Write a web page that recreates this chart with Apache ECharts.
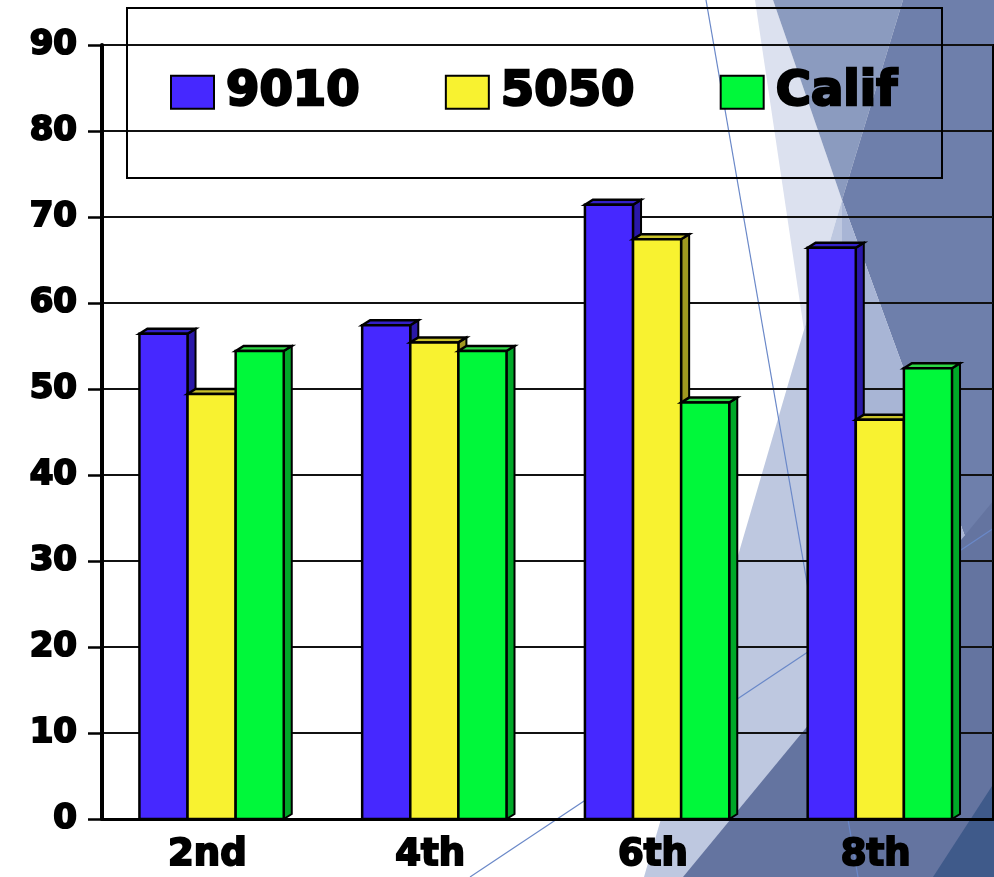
<!DOCTYPE html>
<html>
<head>
<meta charset="utf-8">
<script src="https://cdn.jsdelivr.net/npm/echarts@6/dist/echarts.min.js"></script>
<style>
  html, body { margin: 0; padding: 0; background: #fff; }
  #chart { width: 994px; height: 877px; }
</style>
</head>
<body>
<div id="chart"></div>
<script>
// Grade-level scores for three groups
const categories = ['2nd', '4th', '6th', '8th'];
const seriesNames = ['9010', '5050', 'Calif'];
const values9010 = [57, 58, 72, 67];
const values5050 = [50, 56, 68, 47];
const valuesCalif = [55, 55, 49, 53];
const yMin = 0, yMax = 90, yStep = 10;

// face colours: front, top, side
const palettes = [
  { front: '#4628FF', top: '#3320C8', side: '#2A18A8' },
  { front: '#F8F230', top: '#C9C22A', side: '#A09820' },
  { front: '#00F83A', top: '#2ED846', side: '#00A828' }
];

const FONT = 'DejaVu Sans';

// column with a shallow extruded top and right side
function columnRenderer(slot, pal) {
  return function (params, api) {
    const idx = api.value(0);
    const v = api.value(1);
    const topPt = api.coord([idx, v]);
    const basePt = api.coord([idx, 0]);
    const band = api.size([1, 0])[0];
    const w = band * 0.216;
    const x = topPt[0] - band * 0.332 + slot * w;
    const dx = 8, dy = 5;
    const yt = topPt[1] + dy;
    const yb = basePt[1];
    return {
      type: 'group',
      children: [
        { type: 'polygon',
          shape: { points: [[x + w, yt], [x + w + dx, yt - dy], [x + w + dx, yb - dy], [x + w, yb]] },
          style: { fill: pal.side, stroke: '#000', lineWidth: 2 } },
        { type: 'polygon',
          shape: { points: [[x, yt], [x + dx, yt - dy], [x + w + dx, yt - dy], [x + w, yt]] },
          style: { fill: pal.top, stroke: '#000', lineWidth: 2.5 } },
        { type: 'rect',
          shape: { x: x, y: yt, width: w, height: yb - yt },
          style: { fill: pal.front, stroke: '#000', lineWidth: 2.5 } }
      ]
    };
  };
}

const seriesValues = [values9010, values5050, valuesCalif];

const series = seriesNames.map(function (name, s) {
  return {
    type: 'custom',
    name: name,
    renderItem: columnRenderer(s, palettes[s]),
    encode: { x: 0, y: 1 },
    itemStyle: { color: palettes[s].front },
    data: seriesValues[s].map(function (v, i) { return [i, v]; }),
    z: 3
  };
});

// slide backdrop: angular facets on the right
function poly(points, fill) {
  return { type: 'polygon', z: -20, silent: true, shape: { points: points }, style: { fill: fill } };
}
function thin(x1, y1, x2, y2) {
  return { type: 'line', z: -15, silent: true, shape: { x1: x1, y1: y1, x2: x2, y2: y2 },
           style: { stroke: '#6A88C8', lineWidth: 1.2 } };
}

const backdrop = [
  poly([[755, 0], [773, 0], [842, 200], [804, 330]], '#DCE1EF'),
  poly([[773, 0], [903, 0], [842, 200]], '#8B9BBF'),
  poly([[903, 0], [994, 0], [994, 616], [842, 200]], '#6E7FAB'),
  poly([[842, 200], [994, 616], [994, 877], [644, 877]], '#BEC8E0'),
  poly([[842, 200], [994, 616], [994, 877], [842, 877]], '#A8B5D5'),
  poly([[683, 877], [994, 500], [994, 877]], '#6474A0'),
  poly([[933, 877], [994, 783], [994, 877]], '#3F5A8A'),
  thin(706, 0, 858, 877),
  thin(470, 877, 994, 528),
  // legend frame
  { type: 'rect', z: 5, silent: true, shape: { x: 127, y: 8, width: 815, height: 170 },
    style: { fill: 'none', stroke: '#000', lineWidth: 2 } }
];

const chart = echarts.init(document.getElementById('chart'));
chart.setOption({
  animation: false,
  backgroundColor: 'transparent',
  graphic: { elements: backdrop },
  legend: {
    data: seriesNames,
    left: 170,
    top: 67,
    padding: 0,
    itemGap: 84,
    itemWidth: 43,
    itemHeight: 33,
    icon: 'rect',
    selectedMode: false,
    itemStyle: { borderColor: '#000', borderWidth: 2 },
    textStyle: { fontFamily: FONT, fontWeight: 'bold', fontSize: 48, color: '#000',
                 textBorderColor: '#000', textBorderWidth: 2.5, padding: [0, 0, 0, 7] }
  },
  grid: {
    left: 102, right: 1, top: 45, bottom: 58,
    show: true, borderColor: '#000', borderWidth: 2, backgroundColor: 'transparent'
  },
  xAxis: {
    type: 'category',
    data: categories,
    axisLine: { lineStyle: { color: '#000', width: 3 } },
    axisTick: { length: 10, lineStyle: { color: '#000', width: 3 } },
    axisLabel: { fontFamily: FONT, fontWeight: 'bold', fontSize: 37, color: '#000', margin: 18,
                 textBorderColor: '#000', textBorderWidth: 2, padding: [0, 12, 0, 0] },
    splitLine: { show: false }
  },
  yAxis: {
    type: 'value',
    min: yMin, max: yMax, interval: yStep,
    axisLine: { show: true, lineStyle: { color: '#000', width: 4 } },
    axisTick: { show: true, length: 14, lineStyle: { color: '#000', width: 2.5 } },
    axisLabel: { fontFamily: FONT, fontWeight: 'bold', fontSize: 34, color: '#000', margin: 25,
                 textBorderColor: '#000', textBorderWidth: 2 },
    splitLine: { lineStyle: { color: '#111', width: 2 } }
  },
  series: series
});
</script>
</body>
</html>
